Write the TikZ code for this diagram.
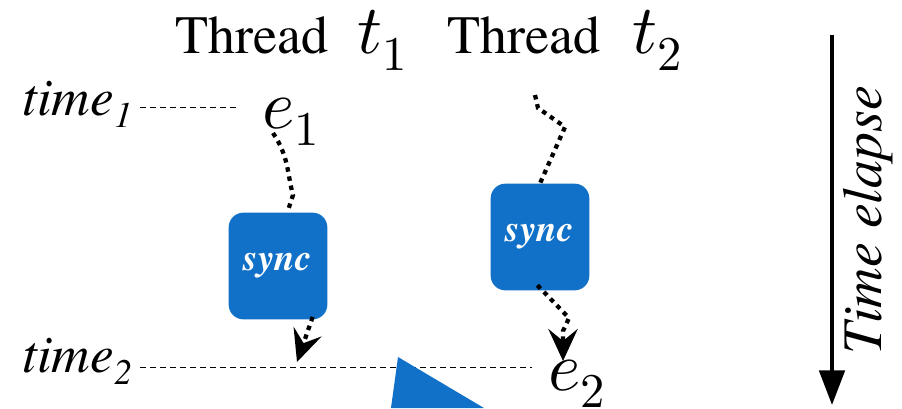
\documentclass[tikz,border=0pt]{standalone}
\usepackage{fontspec}
\usepackage{unicode-math}
\setmainfont{texgyretermes}[
  Extension=.otf,
  UprightFont=*-regular,
  BoldFont=*-bold,
  ItalicFont=*-italic,
  BoldItalicFont=*-bolditalic]
\usetikzlibrary{arrows.meta}
\definecolor{syncblue}{RGB}{17,112,199}
\newcommand{\bigmath}[1]{{\fontsize{52}{54}\selectfont$#1$}}
\begin{document}
\begin{tikzpicture}[x=0.75pt,y=-0.75pt,
  lbl/.style={inner sep=0pt, anchor=base west},
  hdr/.style={lbl, font=\fontsize{40.5}{42}\selectfont},
  timelbl/.style={lbl, font=\fontsize{40}{42}\selectfont\itshape},
  evt/.style={lbl, font=\fontsize{52}{54}\selectfont},
  syncbox/.style={fill=syncblue, rounded corners=11pt, minimum width=74pt,
    minimum height=80pt, inner sep=0pt, text=white,
    font=\fontsize{28}{30}\selectfont\bfseries\itshape},
  dotline/.style={line width=3.2pt, dash pattern=on 3.4pt off 3.6pt},
  guide/.style={line width=0.7pt, dash pattern=on 4.5pt off 3pt},
  bigtip/.style={-{Stealth[length=24pt,width=22pt,inset=9pt]}}
]
\useasboundingbox (0,0) rectangle (902,408);

% column headers
\node[hdr] (th1) at (175,53) {Thread\hspace{0.55em}\bigmath{t_1}};
\node[hdr] (th2) at (447,53) {Thread\hspace{0.6em}\bigmath{t_2}};

% time marks
\node[timelbl] (time1) at (22,115) {time\raisebox{-9pt}{\fontsize{27}{27}\selectfont 1}};
\node[timelbl] (time2) at (22,372) {time\raisebox{-9pt}{\fontsize{27}{27}\selectfont 2}};

% events
\node[evt] (e1) at (262,128) {$e_1$};
\node[evt] (e2) at (548,390) {$e_2$};

% synchronisation blocks
\node[syncbox] (sync1) at (278,266) {sync};
\node[syncbox] (sync2) at (540,237) {sync};

% guide lines
\draw[guide] ([shift={(8,-8)}]time1.base east) -- ([shift={(-25,-21)}]e1.base west);
\draw[guide] ([shift={(8,-5)}]time2.base east) -- ([shift={(-16,-23)}]e2.base west);

% thread 1
\coordinate (hit1) at (297,362);
\draw[dotline] ([shift={(11,5)}]e1.base west) .. controls +(16,24) and +(-6,-22) .. (293,195) -- ([xshift=7]sync1.north);
\draw[dotline,bigtip] ([xshift=26,yshift=2]sync1.south) -- (hit1);

% thread 2
\coordinate (t2top) at (535,95);
\coordinate (e2in) at (563,361);
\draw[dotline] (t2top) -- (538,108) -- (565,127) -- (sync2.north);
\draw[dotline,bigtip] ([xshift=-2,yshift=4]sync2.south) -- (569,318) -- (563,331) -- (e2in);

% blue wedge at the bottom
\fill[syncblue] (398,357) -- (484,408) -- (391,408) -- cycle;

% time axis
\coordinate (axtop) at (832,35);
\coordinate (axbot) at (832,405);
\draw[line width=3pt,-{Triangle[length=26pt,width=19pt]}] (axtop) -- (axbot);
\node[rotate=90, inner sep=0pt, font=\fontsize{42}{44}\selectfont\itshape] (elapse) at (868,220) {Time elapse};
\end{tikzpicture}
\end{document}
